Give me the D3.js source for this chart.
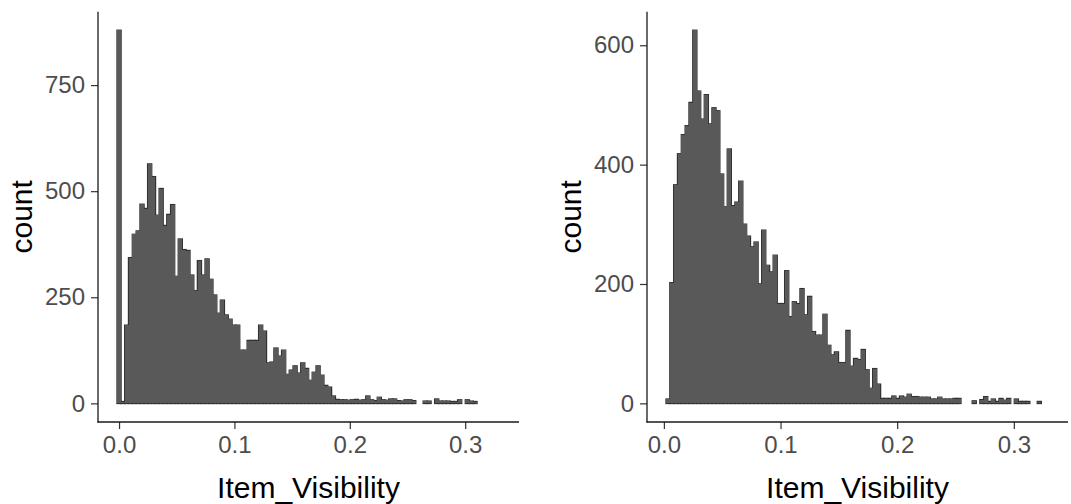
<!DOCTYPE html>
<html>
<head>
<meta charset="utf-8">
<script src="https://cdn.jsdelivr.net/npm/d3@7"></script>
<style>
  body { margin: 0; background: #fff; }
  text { font-family: 'Liberation Sans', Arial, sans-serif; }
</style>
</head>
<body>
<div id="chart"></div>
<script>
// ----------- DATA ------------
const nBins = 100;
const leftRange = [0, 0.328391];
const rightRange = [0.003575, 0.328391];

const leftCounts = [
  879, 4, 184, 343, 398, 406, 469, 459, 564, 534,
  443, 506, 419, 445, 468, 299, 387, 362, 360, 302,
  265, 336, 302, 340, 292, 255, 212, 243, 208, 198,
  184, 184, 125, 125, 148, 148, 148, 184, 170, 95,
  97, 130, 111, 125, 68, 78, 88, 71, 95, 82,
  54, 73, 88, 66, 42, 38, 17, 9, 8, 8,
  7, 8, 9, 7, 8, 17, 8, 6, 14, 8,
  7, 10, 10, 6, 5, 8, 8, 6, 0, 0,
  5, 5, 0, 10, 5, 5, 5, 4, 4, 8,
  0, 8, 5, 4, 0, 0, 0, 0, 0, 0
];

const rightCounts = [
  7, 202, 366, 418, 450, 465, 504, 625, 523, 476,
  517, 468, 495, 490, 384, 329, 426, 331, 337, 372,
  300, 280, 262, 270, 200, 290, 231, 220, 248, 167,
  167, 222, 145, 170, 167, 192, 148, 179, 120, 114,
  114, 149, 97, 81, 86, 68, 68, 122, 62, 75,
  73, 90, 56, 25, 58, 32, 8, 8, 8, 12,
  8, 12, 10, 15, 11, 11, 10, 10, 10, 7,
  7, 10, 7, 7, 7, 8, 8, 0, 0, 0,
  4, 0, 6, 11, 3, 7, 3, 8, 5, 8,
  0, 7, 3, 3, 3, 0, 0, 3, 0, 0
];

const xTicks = [0, 0.1, 0.2, 0.3];
const leftYTicks = [0, 250, 500, 750];
const rightYTicks = [0, 200, 400, 600];
const xTitle = 'Item_Visibility';
const yTitle = 'count';

// ----------- SVG ------------
const width = 1071, height = 504;
const svg = d3.select('#chart').append('svg')
  .attr('width', width)
  .attr('height', height);

svg.append('rect').attr('width', width).attr('height', height).attr('fill', '#fff');

const plotTop = 11.7, plotBottom = 422;

function drawPanel(counts, range, yTicks, left, right) {
  // ggplot-style bins: centred on the min, width = range / (bins - 1)
  const w = (range[1] - range[0]) / (nBins - 1);
  const bins = counts.map((c, i) => ({
    x0: range[0] + (i - 0.5) * w,
    x1: range[0] + (i + 0.5) * w,
    count: c
  }));

  const lo = bins[0].x0, hi = bins[nBins - 1].x1;
  const padX = (hi - lo) * 0.05;
  const x = d3.scaleLinear().domain([lo - padX, hi + padX]).range([left, right]);

  const maxY = d3.max(counts);
  const y = d3.scaleLinear().domain([-maxY * 0.05, maxY * 1.05]).range([plotBottom, plotTop]);

  const g = svg.append('g');
  const shown = bins.filter(d => d.count > 0);

  // dark outline pass first, then the fill on top -> only the silhouette edge stays dark
  ['outline', 'fill'].forEach(pass => {
    g.selectAll('rect.' + pass)
      .data(shown)
      .enter()
      .append('rect')
      .attr('class', pass)
      .attr('x', d => x(d.x0))
      .attr('width', d => x(d.x1) - x(d.x0))
      .attr('y', d => y(d.count))
      .attr('height', d => y(0) - y(d.count))
      .attr('fill', '#595959')
      .attr('stroke', pass === 'outline' ? '#333' : 'none')
      .attr('stroke-width', pass === 'outline' ? 1.6 : 0)
      .attr('shape-rendering', pass === 'fill' ? 'crispEdges' : null);
  });

  // x axis
  const xAxis = g.append('g')
    .attr('transform', `translate(0, ${plotBottom})`)
    .call(d3.axisBottom(x).tickValues(xTicks).tickFormat(d3.format('.1f')).tickSize(7).tickPadding(7));

  // y axis
  const yAxis = g.append('g')
    .attr('transform', `translate(${left}, 0)`)
    .call(d3.axisLeft(y).tickValues(yTicks).tickSize(7).tickPadding(6));

  [xAxis, yAxis].forEach(a => {
    a.select('.domain').remove();
    a.selectAll('.tick line').attr('stroke', '#333').attr('stroke-width', 1.2);
    a.selectAll('.tick text')
      .attr('fill', '#4d4d4d')
      .style('font-size', '24px')
      .style('font-family', "'Liberation Sans', Arial, sans-serif");
  });

  // axis lines (theme_classic)
  g.append('line')
    .attr('x1', left).attr('x2', left)
    .attr('y1', plotTop).attr('y2', plotBottom + 0.6)
    .attr('stroke', '#1a1a1a').attr('stroke-width', 1.3);
  g.append('line')
    .attr('x1', left - 0.6).attr('x2', right)
    .attr('y1', plotBottom).attr('y2', plotBottom)
    .attr('stroke', '#1a1a1a').attr('stroke-width', 1.3);

  // titles
  g.append('text')
    .attr('x', (left + right) / 2)
    .attr('y', 498)
    .attr('text-anchor', 'middle')
    .style('font-size', '30px')
    .attr('fill', '#000')
    .text(xTitle);

  g.append('text')
    .attr('transform', `translate(${left - 66}, ${(plotTop + plotBottom) / 2}) rotate(-90)`)
    .attr('text-anchor', 'middle')
    .style('font-size', '30px')
    .attr('fill', '#000')
    .text(yTitle);
}

drawPanel(leftCounts, leftRange, leftYTicks, 98, 519);
drawPanel(rightCounts, rightRange, rightYTicks, 647, 1068);
</script>
</body>
</html>
